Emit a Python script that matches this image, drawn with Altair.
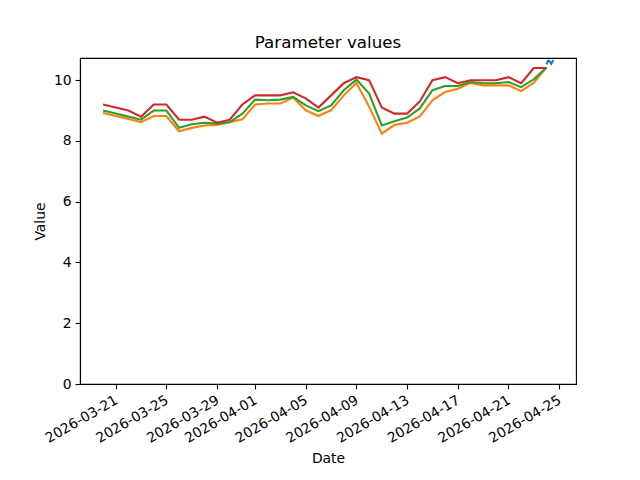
import altair as alt
import pandas as pd

# Daily dates 2026-03-20 .. 2026-04-24
dates = [d.strftime("%Y-%m-%d") for d in pd.date_range("2026-03-20", "2026-04-24", freq="D")]

red_vals = [9.2, 9.1, 9.0, 8.8, 9.2, 9.2, 8.7, 8.7, 8.8, 8.6, 8.7, 9.2,
            9.5, 9.5, 9.5, 9.6, 9.4, 9.1, 9.5, 9.9, 10.1, 10.0, 9.1, 8.9,
            8.9, 9.3, 10.0, 10.1, 9.9, 10.0, 10.0, 10.0, 10.1, 9.9, 10.4, 10.4]
green_vals = [9.0, 8.9, 8.8, 8.7, 9.0, 9.0, 8.43, 8.55, 8.6, 8.57, 8.62, 8.9,
              9.36, 9.34, 9.36, 9.45, 9.17, 8.98, 9.17, 9.67, 10.02, 9.56, 8.51, 8.65,
              8.77, 9.07, 9.67, 9.81, 9.81, 9.94, 9.9, 9.9, 9.94, 9.77, 10.03, 10.42]
orange_vals = [8.92, 8.82, 8.72, 8.62, 8.82, 8.82, 8.32, 8.43, 8.51, 8.53, 8.62, 8.71,
               9.2, 9.23, 9.23, 9.43, 9.01, 8.82, 9.01, 9.5, 9.91, 9.13, 8.24, 8.53,
               8.6, 8.81, 9.34, 9.61, 9.72, 9.91, 9.83, 9.83, 9.83, 9.64, 9.92, 10.42]

blue_times = ["2026-04-24T00:00:00Z", "2026-04-24T03:00:00Z", "2026-04-24T05:00:00Z",
              "2026-04-24T09:00:00Z", "2026-04-24T13:00:00Z"]
blue_vals = [10.52, 10.64, 10.64, 10.54, 10.66]

tick_dates = ["2026-03-21", "2026-03-25", "2026-03-29", "2026-04-01", "2026-04-05",
              "2026-04-09", "2026-04-13", "2026-04-17", "2026-04-21", "2026-04-25"]
y_ticks = [0, 2, 4, 6, 8, 10]


def ms(s):
    return int(pd.Timestamp(s, tz="UTC").value // 10**6)


x_domain = [ms("2026-03-18T04:20:00"), ms("2026-04-26T07:55:00")]
y_domain = [0, 10.73]

daily = pd.DataFrame({
    "Date": [d + "T00:00:00Z" for d in dates],
    "red": red_vals, "green": green_vals, "orange": orange_vals,
})
blue_df = pd.DataFrame({"Date": blue_times, "blue": blue_vals})

x_enc = alt.X(
    "Date:T",
    scale=alt.Scale(type="utc", domain=x_domain, nice=False),
    axis=alt.Axis(
        title="Date", values=[ms(t) for t in tick_dates], format="%Y-%m-%d",
        labelAngle=-30, labelAlign="right", labelBaseline="top",
        labelOffset=-3, labelPadding=4, titlePadding=6, grid=False,
        labelOverlap=False,
    ),
)


def y_enc(field):
    return alt.Y(
        f"{field}:Q",
        scale=alt.Scale(domain=y_domain, nice=False, zero=False),
        axis=alt.Axis(title="Value", values=y_ticks, grid=False, titlePadding=6,
                      labelPadding=4),
    )


def line(df, field, color):
    return alt.Chart(df).mark_line(color=color, strokeWidth=2.1, clip=True).encode(
        x=x_enc, y=y_enc(field)
    )


chart = alt.layer(
    line(blue_df, "blue", "#1f77b4"),
    line(daily, "orange", "#ff7f0e"),
    line(daily, "green", "#2ca02c"),
    line(daily, "red", "#d62728"),
).properties(
    width=496, height=326,
    title=alt.TitleParams("Parameter values", fontSize=16.7, fontWeight="normal",
                          color="black", font="DejaVu Sans", offset=6),
    autosize=alt.AutoSizeParams(type="none"),
    padding={"left": 72, "top": 50, "right": 56, "bottom": 88},
).configure_view(
    stroke="black", strokeWidth=1.1
).configure_axis(
    domainColor="black", domainWidth=1.1, tickColor="black", tickSize=4.9,
    tickWidth=1.1, labelColor="black", titleColor="black",
    labelFont="DejaVu Sans", titleFont="DejaVu Sans",
    labelFontSize=13.9, titleFontSize=13.9, titleFontWeight="normal",
)

chart.save("out.html", embed_options={"renderer": "svg", "actions": False})
